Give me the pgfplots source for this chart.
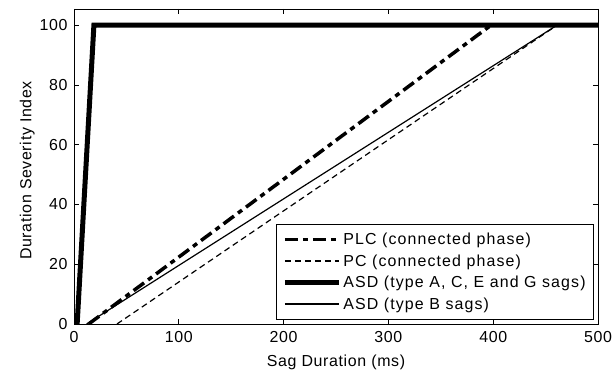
\documentclass[border=0pt]{standalone}
\usepackage{pgfplots}
\pgfplotsset{compat=1.18}
\usepackage{fontspec}
\setmainfont{Liberation Sans}[LetterSpace=4]
\begin{document}
\begin{tikzpicture}
\begin{axis}[
  scale only axis, width=524bp, height=315bp,
  xmin=0, xmax=500, ymin=0, ymax=105.4,
  xtick={0,100,...,500}, ytick={0,20,...,100},
  tick align=inside, tick pos=both,
  major tick length=5bp,
  axis line style={line width=0.8bp},
  every tick/.style={black, line width=0.8bp},
  font=\fontsize{16}{19}\selectfont,
  tick label style={font=\fontsize{16}{19}\selectfont},
  xticklabel style={yshift=-4bp},
  yticklabel style={xshift=-3bp},
  /pgf/number format/assume math mode=true,
  xlabel={Sag Duration (ms)},
  xlabel style={yshift=-5bp},
  ylabel={Duration Severity Index},
  ylabel style={xshift=-4bp, yshift=-2bp},
  legend style={at={(1,0)}, anchor=south east, xshift=-4bp, yshift=4bp,
    draw=black, line width=0.8bp,
    font=\fontsize{16}{19}\selectfont\addfontfeature{LetterSpace=7},
    row sep=4.5bp, inner xsep=6bp, inner ysep=7bp},
  legend cell align=left,
  legend image code/.code={\draw[#1] (0bp,0bp) -- (54bp,0bp);},
]
\addplot[black, line width=3.5bp, dash pattern=on 13bp off 5bp on 5bp off 5bp] coordinates {(14,0) (398,100)};
\addlegendentry{PLC (connected phase)}
\addplot[black, line width=1.2bp, dash pattern=on 6bp off 4bp] coordinates {(41,0) (461,100)};
\addlegendentry{PC (connected phase)}
\addplot[black, line width=5bp, line join=miter] coordinates {(3,0) (19,100) (500,100)};
\addlegendentry{ASD (type A, C, E and G sags)}
\addplot[black, line width=1.2bp] coordinates {(12,0) (461,100)};
\addlegendentry{ASD (type B sags)}
\end{axis}
\path (current axis.south west) ++(-74bp,-48bp) coordinate (bl);
\path (current axis.north east) ++(15bp,9bp) coordinate (tr);
\pgfresetboundingbox
\path (bl) rectangle (tr);
\end{tikzpicture}
\end{document}
